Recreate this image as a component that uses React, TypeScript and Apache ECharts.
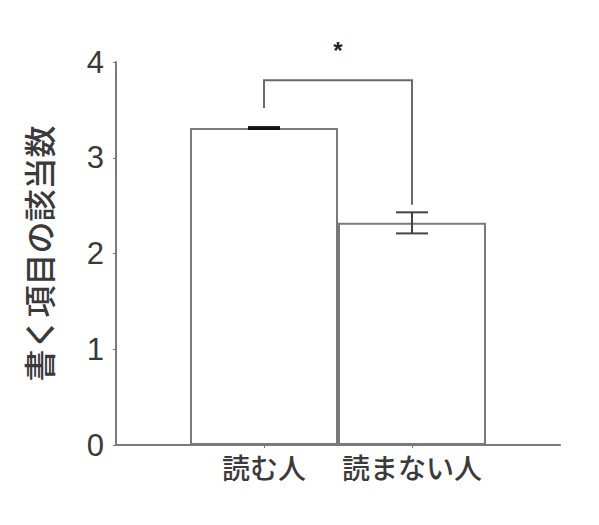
import React, { useEffect, useRef } from "react";
import * as echarts from "echarts";

const categories = ["読む人", "読まない人"];
const categoryPositions = [1, 2];
const means = [3.31, 2.32];
const errors = [0.01, 0.11];
const yTicks = [0, 1, 2, 3, 4];
const bracketLeftBottom = 3.52;
const bracketTop = 3.81;
const bracketRightBottom = 2.51;
const significanceMark = "*";
const markY = 4.12;
const yAxisTitle = "書く項目の該当数";

export default function App() {
  const ref = useRef<HTMLDivElement>(null);
  useEffect(() => {
    document.body.style.margin = "0";
    const chart = echarts.init(ref.current!, null, { renderer: "svg" });
    const gray = "#7a7a7a";
    const textColor = "#3a3a3a";
    const option: any = {
      animation: false,
      backgroundColor: "#ffffff",
      grid: { left: 116, right: 39, top: 62, bottom: 80 },
      xAxis: {
        type: "value",
        min: 0,
        max: 3,
        splitLine: { show: false },
        axisLine: { show: true, lineStyle: { color: gray, width: 2 } },
        axisTick: {
          show: true,
          customValues: categoryPositions,
          length: 3,
          lineStyle: { color: gray, width: 1 },
        },
        axisLabel: {
          customValues: categoryPositions,
          formatter: (v: number) => categories[categoryPositions.indexOf(v)] ?? "",
          fontSize: 28,
          fontWeight: 500,
          color: textColor,
          fontFamily: "Noto Sans CJK JP",
          margin: 8,
        },
      },
      yAxis: {
        type: "value",
        min: yTicks[0],
        max: yTicks[yTicks.length - 1],
        interval: 1,
        splitLine: { show: false },
        axisLine: { show: true, lineStyle: { color: gray, width: 2 } },
        axisTick: { show: true, length: 3, lineStyle: { color: gray, width: 1 } },
        axisLabel: {
          fontSize: 31,
          color: textColor,
          fontFamily: "Liberation Sans",
          margin: 12,
        },
        name: yAxisTitle,
        nameLocation: "middle",
        nameRotate: 90,
        nameGap: 62,
        nameTextStyle: {
          fontSize: 32,
          fontWeight: 500,
          color: textColor,
          fontFamily: "Noto Sans CJK JP",
        },
      },
      series: [
        {
          type: "bar",
          data: categoryPositions.map((x, i) => [x, means[i]]),
          barWidth: 148,
          itemStyle: { color: "#ffffff", borderColor: gray, borderWidth: 2 },
          z: 2,
        },
        {
          type: "custom",
          z: 5,
          data: categoryPositions.map((x, i) => [x, means[i], errors[i]]),
          renderItem: (params: any, api: any) => {
            const x = api.value(0);
            const m = api.value(1);
            const e = api.value(2);
            const hi = api.coord([x, m + e]);
            const lo = api.coord([x, m - e]);
            const half = 16;
            const color = params.dataIndex === 0 ? "#111111" : "#444444";
            const style = { stroke: color, lineWidth: 2, fill: "none" };
            return {
              type: "group",
              children: [
                { type: "line", shape: { x1: hi[0], y1: hi[1], x2: lo[0], y2: lo[1] }, style },
                { type: "line", shape: { x1: hi[0] - half, y1: hi[1], x2: hi[0] + half, y2: hi[1] }, style },
                { type: "line", shape: { x1: lo[0] - half, y1: lo[1], x2: lo[0] + half, y2: lo[1] }, style },
              ],
            };
          },
        },
        {
          type: "custom",
          z: 5,
          data: [[categoryPositions[0], categoryPositions[1], bracketLeftBottom, bracketTop, bracketRightBottom]],
          renderItem: (params: any, api: any) => {
            const a = api.coord([api.value(0), api.value(2)]);
            const b = api.coord([api.value(0), api.value(3)]);
            const c = api.coord([api.value(1), api.value(3)]);
            const d = api.coord([api.value(1), api.value(4)]);
            return {
              type: "polyline",
              shape: { points: [a, b, c, d] },
              style: { stroke: "#6a6a6a", lineWidth: 2, fill: "none" },
            };
          },
        },
        {
          type: "custom",
          z: 5,
          data: [[(categoryPositions[0] + categoryPositions[1]) / 2, markY]],
          renderItem: (params: any, api: any) => {
            const p = api.coord([api.value(0), api.value(1)]);
            return {
              type: "text",
              x: p[0],
              y: p[1],
              style: {
                text: significanceMark,
                fontSize: 24,
                fontWeight: "bold",
                fontFamily: "Liberation Sans",
                fill: "#222222",
                align: "center",
                verticalAlign: "middle",
              },
            };
          },
        },
      ],
    };
    chart.setOption(option);
    return () => chart.dispose();
  }, []);
  return <div ref={ref} style={{ width: 599, height: 525 }} />;
}
